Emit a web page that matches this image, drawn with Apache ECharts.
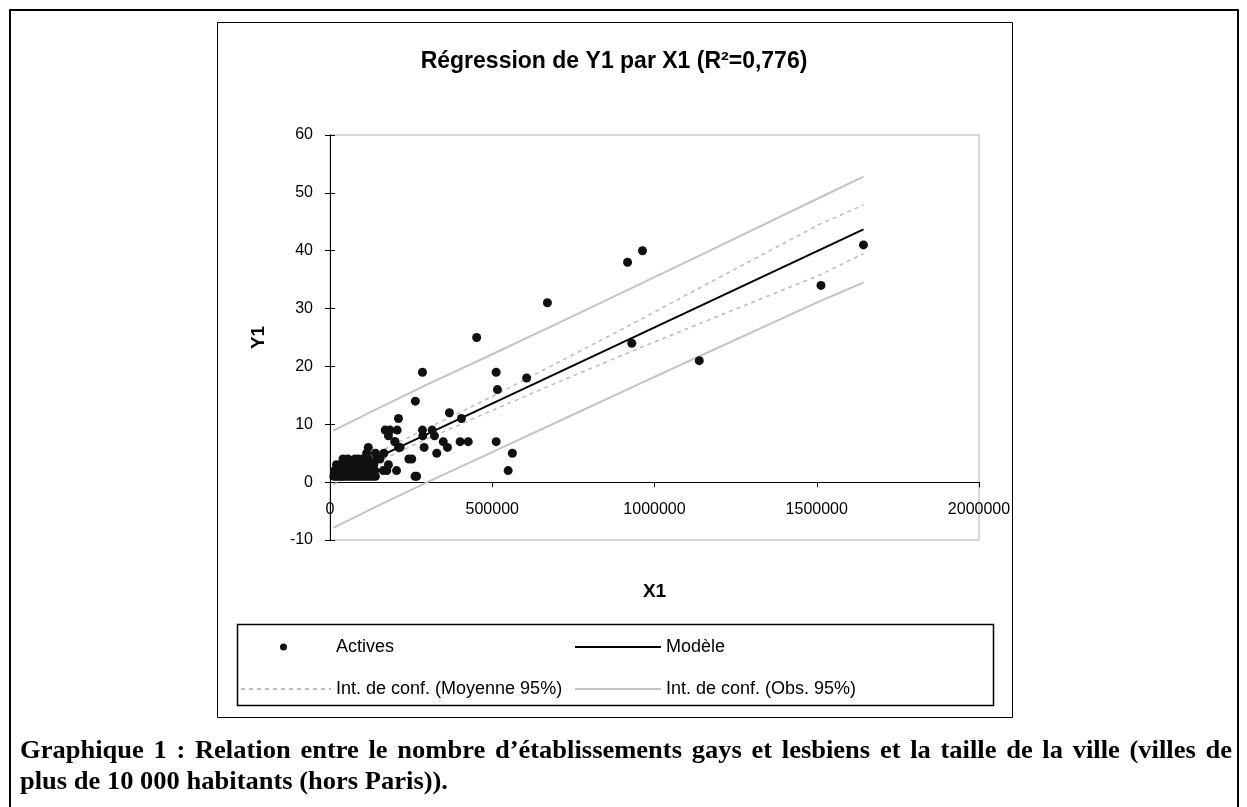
<!DOCTYPE html>
<html>
<head>
<meta charset="utf-8">
<title>Régression de Y1 par X1</title>
<script src="https://cdn.jsdelivr.net/npm/echarts@6/dist/echarts.min.js"></script>
<style>
  html, body { margin: 0; padding: 0; background: #fff; }
  #chart { width: 1247px; height: 807px; }
</style>
</head>
<body>
<div id="chart"></div>
<script>
// observations (Y1 = nombre d'établissements, X1 = population)
var activesX = [
  12000, 18000, 25000, 31000, 38000, 45000, 52000, 60000, 68000, 75000, 83000, 90000, 98000, 106000, 115000, 124000, 133000, 140000,
  14000, 21000, 28000, 35000, 42000, 50000, 57000, 65000, 72000, 80000, 88000, 95000, 103000, 112000, 120000, 128000, 138000,
  20000, 33000, 46000, 58000, 70000, 85000, 97000, 110000, 122000, 135000,
  40000, 55000, 77000, 87000, 100000, 118000, 145000,
  113000, 140000, 118000,
  164000, 175000, 205000, 262000, 267000,
  123000, 180000, 154000, 243000, 252000,
  166000, 329000, 562000, 549000,
  200000, 211000, 290000, 362000, 216000,
  349000, 401000, 426000, 512000, 200000,
  180000, 286000, 322000,
  170000, 185000, 207000, 285000, 315000,
  211000, 405000, 368000, 263000,
  285000, 512000, 516000, 606000, 452000, 670000,
  930000, 1138000, 917000, 963000, 1513000, 1644000
];
var activesY = [
  1, 1, 1, 1, 1, 1, 1, 1, 1, 1, 1, 1, 1, 1, 1, 1, 1, 1,
  2, 2, 2, 2, 2, 2, 2, 2, 2, 2, 2, 2, 2, 2, 2, 2, 2,
  3, 3, 3, 3, 3, 3, 3, 3, 3, 3,
  4, 4, 4, 4, 4, 4, 4,
  5, 5, 6,
  2, 2, 2, 1, 1,
  3, 3, 4, 4, 4,
  5, 5, 5, 2,
  7, 6, 6, 6, 6,
  7, 7, 7, 7, 7,
  8, 8, 8,
  9, 9, 9, 9, 9,
  11, 11, 12, 14,
  19, 19, 16, 18, 25, 31,
  24, 21, 38, 40, 34, 41
];

// droite du modèle
var modelX = [10000, 1644000];
var modelY = [0.7, 43.7];

// bornes des intervalles de confiance
var confX = [10000, 150000, 300000, 500000, 700000, 950000, 1140000, 1510000, 1644000];
var meanUpper = [1.8, 5.2, 9.3, 14.8, 20.6, 27.9, 33.6, 44.6, 47.9];
var meanLower = [-0.4, 3.6, 7.5, 12.4, 17.2, 23.1, 27.4, 35.8, 39.5];
var obsUpper = [8.9, 12.8, 16.9, 22.1, 27.4, 34.1, 39.2, 49.2, 52.8];
var obsLower = [-7.9, -4.0, 0.0, 5.2, 10.4, 16.9, 21.8, 31.3, 34.5];

// graduations
var xTickValues = [0, 500000, 1000000, 1500000, 2000000];
var xTickLabels = ['0', '500000', '1000000', '1500000', '2000000'];
var yTickValues = [-10, 0, 10, 20, 30, 40, 50, 60];
var yTickLabels = ['-10', '0', '10', '20', '30', '40', '50', '60'];

var captionLines = [
  'Graphique 1 : Relation entre le nombre d\u2019établissements gays et lesbiens et la taille de la ville (villes de',
  'plus de 10 000 habitants (hors Paris)).'
];

function zip(xs, ys) {
  return xs.map(function (x, i) { return [x, ys[i]]; });
}

function tickLabel(values, labels) {
  return function (v) {
    var i = values.indexOf(v);
    return i >= 0 ? labels[i] : '';
  };
}

var sans = '"Liberation Sans", Arial, sans-serif';
var captionFont = 'bold 25px "Liberation Serif"';

// légende du graphique : police resserrée, première ligne justifiée
var ctx = document.createElement('canvas').getContext('2d');
ctx.font = captionFont;
var captionScale = 428 / ctx.measureText(captionLines[1]).width;
var words = captionLines[0].split(' ');
var wordW = words.map(function (w) { return ctx.measureText(w).width * captionScale; });
var sumW = wordW.reduce(function (a, b) { return a + b; }, 0);
var gapW = (1212 - sumW) / (words.length - 1);

var captionGraphics = [];
var cx = 20;
words.forEach(function (w, i) {
  captionGraphics.push({
    type: 'text', x: cx, y: 752, scaleX: captionScale, silent: true,
    style: { text: w, font: captionFont, fill: '#000', textVerticalAlign: 'middle' }
  });
  cx += wordW[i] + gapW;
});
captionGraphics.push({
  type: 'text', x: 20, y: 783, scaleX: captionScale, silent: true,
  style: { text: captionLines[1], font: captionFont, fill: '#000', textVerticalAlign: 'middle' }
});

var chart = echarts.init(document.getElementById('chart'));

var meanStyle = { color: '#bcbcbc', width: 1.5, type: [4, 4] };
var obsStyle = { color: '#c4c4c4', width: 2 };
var legendText = { fontFamily: sans, fontSize: 18, color: '#000' };

function legendItem(name, left, top, w, h, extra) {
  var item = { name: name, itemStyle: { opacity: 0 } };
  return Object.assign({
    data: [item],
    left: left,
    top: top,
    padding: 0,
    itemWidth: w,
    itemHeight: h,
    selectedMode: false,
    textStyle: legendText
  }, extra || {});
}

var option = {
  animation: false,
  backgroundColor: '#fff',
  title: {
    text: 'Régression de Y1 par X1 (R²=0,776)',
    left: 614,
    top: 50,
    padding: 0,
    textAlign: 'center',
    textStyle: { fontFamily: sans, fontSize: 23, fontWeight: 'bold', color: '#000' }
  },
  grid: {
    left: 330,
    right: 268,
    top: 135,
    bottom: 267,
    show: true,
    borderColor: '#b0b0b0',
    borderWidth: 1
  },
  legend: [
    {
      data: ['Actives'],
      left: 280,
      top: 638,
      padding: 0,
      itemWidth: 7,
      itemHeight: 7,
      selectedMode: false,
      textStyle: Object.assign({ padding: [0, 0, 0, 44] }, legendText)
    },
    legendItem('Modèle', 574, 638, 86, 20),
    legendItem('Int. de conf. (Moyenne 95%)', 240, 680, 90, 20),
    legendItem('Int. de conf. (Obs. 95%)', 574, 680, 86, 20)
  ],
  xAxis: [
    {
      type: 'value',
      min: 0,
      max: 2000000,
      interval: 500000,
      name: 'X1',
      nameLocation: 'middle',
      nameGap: 42,
      nameTextStyle: { fontFamily: sans, fontSize: 19, fontWeight: 'bold', color: '#000' },
      axisLine: { onZero: true, lineStyle: { color: '#000', width: 1 } },
      axisTick: { show: true, length: 5, lineStyle: { color: '#000' } },
      axisLabel: {
        margin: -38,
        fontFamily: sans,
        fontSize: 16,
        color: '#000',
        formatter: tickLabel(xTickValues, xTickLabels)
      },
      splitLine: { show: false }
    },
    {
      type: 'value',
      min: 0,
      max: 2000000,
      interval: 500000,
      axisLine: { show: true, onZero: true, lineStyle: { color: 'rgba(0,0,0,0)' } },
      axisTick: { show: true, inside: true, length: 5, lineStyle: { color: '#000' } },
      axisLabel: { show: false },
      splitLine: { show: false }
    }
  ],
  yAxis: [
    {
      type: 'value',
      min: -10,
      max: 60,
      interval: 10,
      name: 'Y1',
      nameLocation: 'middle',
      nameGap: 62,
      nameTextStyle: { fontFamily: sans, fontSize: 19, fontWeight: 'bold', color: '#000' },
      axisLine: { show: true, onZero: false, lineStyle: { color: '#000', width: 1 } },
      axisTick: { show: true, length: 5, lineStyle: { color: '#000' } },
      axisLabel: {
        margin: 17,
        fontFamily: sans,
        fontSize: 16,
        color: '#000',
        formatter: tickLabel(yTickValues, yTickLabels)
      },
      splitLine: { show: false }
    },
    {
      type: 'value',
      position: 'left',
      min: -10,
      max: 60,
      interval: 10,
      axisLine: { show: false, onZero: false },
      axisTick: { show: true, inside: true, length: 5, lineStyle: { color: '#000' } },
      axisLabel: { show: false },
      splitLine: { show: false }
    }
  ],
  series: [
    {
      name: 'Int. de conf. (Obs. 95%)',
      type: 'line',
      data: zip(confX, obsUpper),
      symbol: 'none',
      lineStyle: obsStyle,
      itemStyle: { color: '#c4c4c4' }
    },
    {
      name: 'Int. de conf. (Obs. 95%)',
      type: 'line',
      data: zip(confX, obsLower),
      symbol: 'none',
      lineStyle: obsStyle,
      itemStyle: { color: '#c4c4c4' }
    },
    {
      name: 'Int. de conf. (Moyenne 95%)',
      type: 'line',
      data: zip(confX, meanUpper),
      symbol: 'none',
      lineStyle: meanStyle,
      itemStyle: { color: '#bcbcbc' }
    },
    {
      name: 'Int. de conf. (Moyenne 95%)',
      type: 'line',
      data: zip(confX, meanLower),
      symbol: 'none',
      lineStyle: meanStyle,
      itemStyle: { color: '#bcbcbc' }
    },
    {
      name: 'Modèle',
      type: 'line',
      data: zip(modelX, modelY),
      symbol: 'none',
      lineStyle: { color: '#000', width: 2 },
      itemStyle: { color: '#000' }
    },
    {
      name: 'Actives',
      type: 'scatter',
      data: zip(activesX, activesY),
      symbol: 'circle',
      symbolSize: 9,
      itemStyle: { color: '#111', opacity: 1 },
      z: 5
    }
  ],
  graphic: [
    // cadre de la page
    {
      type: 'rect',
      shape: { x: 10, y: 10, width: 1228, height: 820 },
      style: { fill: 'none', stroke: '#000', lineWidth: 2 },
      silent: true
    },
    // cadre du graphique
    {
      type: 'rect',
      shape: { x: 217.5, y: 22.5, width: 795, height: 695 },
      style: { fill: 'none', stroke: '#000', lineWidth: 1 },
      silent: true
    },
    // cadre de la légende
    {
      type: 'rect',
      shape: { x: 237.5, y: 624.5, width: 756, height: 81 },
      style: { fill: 'none', stroke: '#000', lineWidth: 1.5 },
      silent: true
    }
  ].concat(captionGraphics)
};

chart.setOption(option);
</script>
</body>
</html>
